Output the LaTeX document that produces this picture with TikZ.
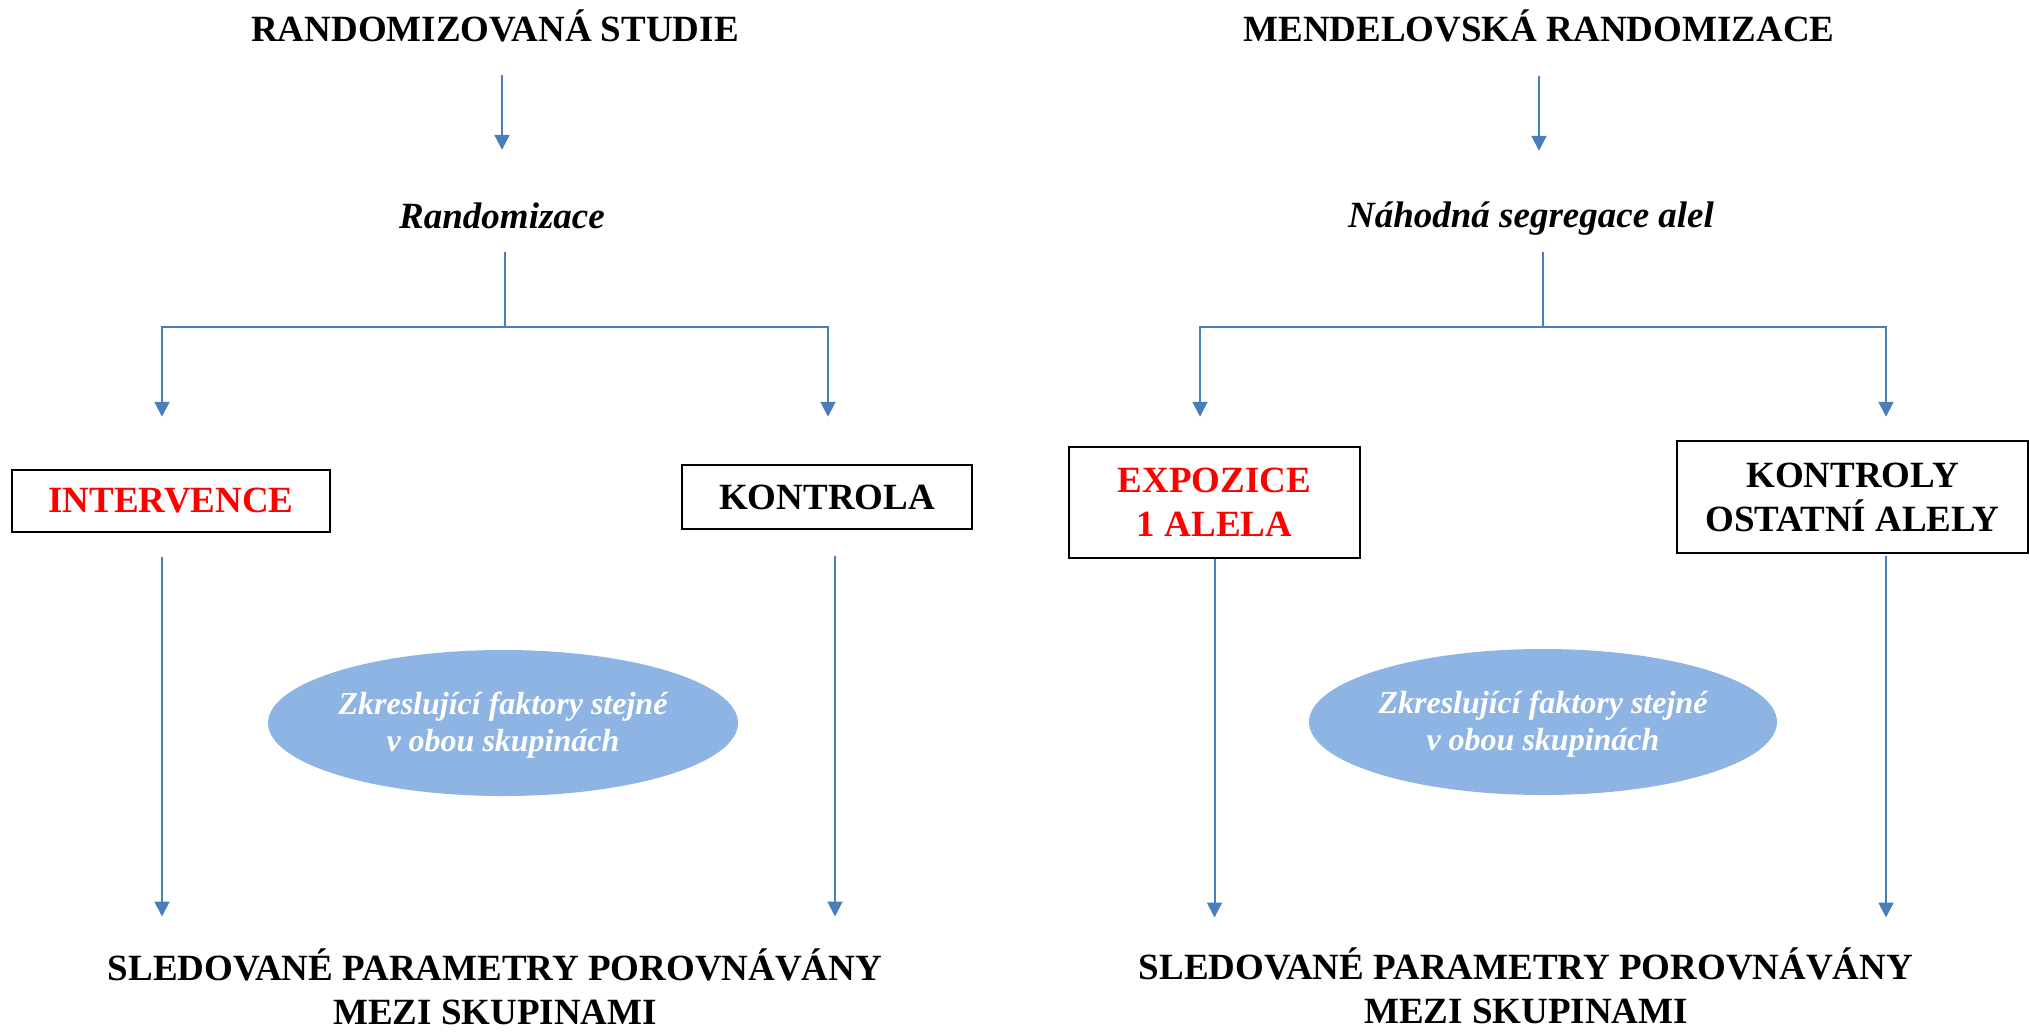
\documentclass[tikz,border=0pt]{standalone}
\usepackage{fontspec}
\setmainfont{Liberation Serif}
\usetikzlibrary{arrows.meta,shapes.geometric}
\definecolor{arrblue}{HTML}{4A7EBB}
\definecolor{ellblue}{HTML}{8EB4E3}
\definecolor{txtred}{HTML}{FF0000}
\begin{document}
\begin{tikzpicture}[x=1pt,y=-1pt,
  big/.style={font=\fontsize{37}{44}\selectfont\bfseries, inner sep=0pt},
  lbl/.style={big, text height=26pt, text depth=0pt, anchor=base},
  lbli/.style={lbl, font=\fontsize{37}{44}\selectfont\bfseries\itshape},
  bottomtext/.style={big, align=center, anchor=south},
  box/.style={draw=black, line width=2.5pt, inner sep=0pt, align=center,
    font=\fontsize{37}{44}\selectfont\bfseries},
  conn/.style={draw=arrblue, line width=2pt},
  arr/.style={conn, -{Triangle[width=15pt,length=15pt]}},
  oval/.style={ellipse, fill=ellblue, inner sep=0pt, text=white,
    text height=20pt, text depth=38pt,
    font=\fontsize{32}{37}\selectfont\bfseries\itshape},
]
\useasboundingbox (0,0) rectangle (2030,1034);

% ---------- left: randomized study ----------
\node[lbl] (t1) at (495,41) {RANDOMIZOVANÁ STUDIE};
\node[lbli] (r1) at (502,228) {Randomizace};
\coordinate (s1) at (505,327);
\coordinate (c1) at (162,327);
\coordinate (c2) at (828,327);
\node[box, minimum width=318pt, minimum height=62pt, text=txtred] (iv) at (171,501) {INTERVENCE};
\node[box, minimum width=290pt, minimum height=64pt] (ko) at (827,497) {KONTROLA};
\node[oval, minimum width=470pt, minimum height=146pt] (e1) at (503,723)
  {\begin{tabular}[t]{@{}c@{}}Zkreslující faktory stejné\\v obou skupinách\end{tabular}};
\node[bottomtext] (b1) at (495,1025)
  {SLEDOVANÉ PARAMETRY POROVNÁVÁNY\\MEZI SKUPINAMI};

\draw[arr, shorten <=34pt, shorten >=52pt] (t1.south -| r1.north) -- (r1.north);
\draw[conn, shorten <=24pt] (r1.south -| s1) -- (s1);
\draw[arr, shorten >=52pt] (s1) -- (c1) -- (c1 |- iv.north);
\draw[arr, shorten >=47pt] (s1) -- (c2) -- (c2 |- ko.north);
\draw[arr, shorten <=24pt, shorten >=32pt] (iv.south -| c1) -- (b1.north -| c1);
\draw[arr, shorten <=26pt, shorten >=32pt] ([xshift=8pt]ko.south) -- ([xshift=8pt]ko.south |- b1.north);

% ---------- right: Mendelian randomization ----------
\node[lbl] (t2) at (1539,41) {MENDELOVSKÁ RANDOMIZACE};
\node[lbli] (r2) at (1531,227) {Náhodná segregace alel};
\coordinate (s2) at (1543,327);
\coordinate (c3) at (1200,327);
\coordinate (c4) at (1886,327);
\node[box, minimum width=291pt, minimum height=111pt, text=txtred] (ex) at (1214.5,502.5) {EXPOZICE\\1 ALELA};
\node[box, minimum width=351pt, minimum height=112pt] (kl) at (1852.5,497) {KONTROLY\\OSTATNÍ ALELY};
\node[oval, minimum width=468pt, minimum height=146pt] (e2) at (1543,722)
  {\begin{tabular}[t]{@{}c@{}}Zkreslující faktory stejné\\v obou skupinách\end{tabular}};
\node[bottomtext] (b2) at (1526,1024)
  {SLEDOVANÉ PARAMETRY POROVNÁVÁNY\\MEZI SKUPINAMI};

\draw[arr, shorten <=35pt, shorten >=50pt] (t2.south) -- (t2.south |- r2.north);
\draw[conn, shorten <=25pt] (r2.south -| s2) -- (s2);
\draw[arr, shorten >=29pt] (s2) -- (c3) -- (c3 |- ex.north);
\draw[arr, shorten >=23pt] (s2) -- (c4) -- (c4 |- kl.north);
\draw[arr, shorten >=30pt] (ex.south) -- (ex.south |- b2.north);
\draw[arr, shorten <=2pt, shorten >=30pt] (kl.south -| c4) -- (b2.north -| c4);
\end{tikzpicture}
\end{document}
